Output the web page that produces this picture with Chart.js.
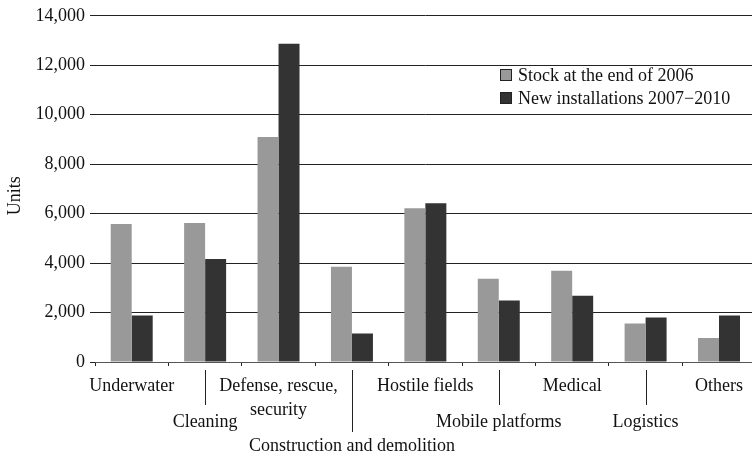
<!DOCTYPE html>
<html><head><meta charset="utf-8">
<script src="https://cdn.jsdelivr.net/npm/chart.js@4"></script>
<style>html,body{margin:0;padding:0;overflow:hidden;background:#fff}#wrap{width:757px;height:457px;position:relative}</style>
</head><body><div id="wrap"><canvas id="c"></canvas></div>
<script>
// ---- data ----
const categories = ["Underwater", "Cleaning", "Defense, rescue, security", "Construction and demolition", "Hostile fields", "Mobile platforms", "Medical", "Logistics", "Others"];
const stock2006 = [5580, 5620, 9100, 3850, 6220, 3370, 3690, 1560, 970];
const newInstall = [1880, 4170, 12870, 1150, 6420, 2490, 2680, 1800, 1880];
const yTickValues = [0, 2000, 4000, 6000, 8000, 10000, 12000, 14000];
const seriesNames = ["Stock at the end of 2006", "New installations 2007\u22122010"];
const yTitle = "Units";

// ---- layout / style ----
const FONT = "'Liberation Serif', 'Times New Roman', serif";
const colors = ["#999999", "#333333"];
const labelSplit = { 2: ["Defense, rescue,", "security"] };
const labelRow = [0, 3, 0, 5, 0, 3, 0, 3, 0];
const leaderLen = { 3: 43, 5: 70 };

function buildLabel(i) {
  const parts = labelSplit[i] || [categories[i]];
  const lines = Array(labelRow[i]).fill('');
  parts.forEach((p, k) => { if (k > 0) lines.push(''); lines.push(p); });
  return lines;
}
const tickLabels = categories.map((c, i) => buildLabel(i));

const extras = {
  id: 'extras',
  afterDraw(chart) {
    const ctx = chart.ctx, xs = chart.scales.x;
    ctx.save();
    ctx.strokeStyle = '#222'; ctx.lineWidth = 1;
    labelRow.forEach((r, i) => {
      if (!r) return;
      const x = Math.round(xs.getPixelForValue(i)) + 0.5;
      ctx.beginPath();
      ctx.moveTo(x, xs.top + 8);
      ctx.lineTo(x, xs.top + leaderLen[r]);
      ctx.stroke();
    });
    // legend
    const ca = chart.chartArea;
    const lx = ca.left + 405, ly = [75, 98];
    ctx.font = "18px " + FONT;
    ctx.textBaseline = 'middle'; ctx.textAlign = 'left';
    seriesNames.forEach((n, k) => {
      ctx.fillStyle = colors[k];
      ctx.fillRect(lx, ly[k] - 6, 12, 12);
      ctx.strokeStyle = '#222';
      ctx.strokeRect(lx + 0.5, ly[k] - 5.5, 11, 11);
      ctx.fillStyle = '#111';
      ctx.fillText(n, lx + 18, ly[k] + 1);
    });
    ctx.restore();
  }
};

new Chart(document.getElementById('c'), {
  type: 'bar',
  data: {
    labels: tickLabels,
    datasets: [
      { label: seriesNames[0], data: stock2006, backgroundColor: colors[0], borderWidth: 0 },
      { label: seriesNames[1], data: newInstall, backgroundColor: colors[1], borderWidth: 0 }
    ]
  },
  options: {
    responsive: true, maintainAspectRatio: false, animation: false,
    devicePixelRatio: 1,
    layout: { padding: { top: 14, bottom: 0, left: 0, right: 0 } },
    plugins: { legend: { display: false }, tooltip: { enabled: false } },
    datasets: { bar: { categoryPercentage: 0.572, barPercentage: 1.0 } },
    scales: {
      x: {
        offset: true,
        afterFit: (s) => { s.height = 95; },
        grid: { display: true, drawOnChartArea: false, drawTicks: true, tickLength: 4, color: '#222', offset: true },
        border: { display: true, color: '#555' },
        ticks: { autoSkip: false, maxRotation: 0, minRotation: 0, padding: 14, color: '#111',
                 font: { family: FONT, size: 18, lineHeight: '12px' } }
      },
      y: {
        min: 0, max: 14000,
        afterBuildTicks: (s) => { s.ticks = yTickValues.map(v => ({ value: v })); },
        afterFit: (s) => { s.width = 95; },
        grid: { color: '#222', tickLength: 5, drawTicks: true },
        border: { display: false },
        ticks: { padding: 5, color: '#111', font: { family: FONT, size: 18 },
                 callback: (v) => Number(v).toLocaleString('en-US') },
        title: { display: true, text: yTitle + "   ", color: '#111', font: { family: FONT, size: 18 }, padding: { top: 4, bottom: 4 } }
      }
    }
  },
  plugins: [extras]
});
</script>
</body></html>
